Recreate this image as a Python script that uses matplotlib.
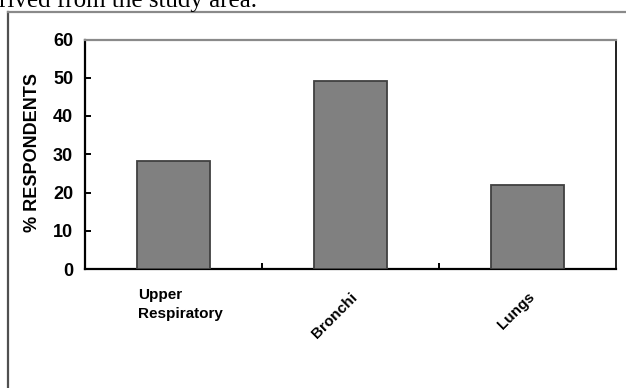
import matplotlib
matplotlib.use("Agg")
import matplotlib.pyplot as plt
from matplotlib.lines import Line2D

categories = ["Upper\nRespiratory", "Bronchi", "Lungs"]
values = [28.3, 49.2, 22.0]
yticks = [0, 10, 20, 30, 40, 50, 60]
ylabel = "% RESPONDENTS"
caption = "rived from the study area."

W, H = 626, 388
fig = plt.figure(figsize=(W / 100, H / 100), dpi=100)
plt.rcParams['font.family'] = ['Liberation Sans', 'DejaVu Sans']

def fx(px):
    return px / W

def fy(py):
    return 1 - py / H

# page text (cut off at top, as in the screenshot)
fig.text(fx(-1), fy(6.5), caption, family='Liberation Serif', fontsize=18,
         ha='left', va='baseline', color='black')

# outer frame of the chart object
fig.add_artist(Line2D([fx(8), fx(8)], [fy(12), fy(H + 5)], color='#505050', lw=1.6,
                      transform=fig.transFigure))
fig.add_artist(Line2D([fx(8), fx(W + 5)], [fy(12), fy(12)], color='#8a8a8a', lw=1.6,
                      transform=fig.transFigure))

left, right, top, bottom = 85, 616, 39.5, 269
ax = fig.add_axes([fx(left), fy(bottom), fx(right - left), (bottom - top) / H])

x = list(range(len(categories)))
ax.bar(x, values, width=0.41, color='#808080', edgecolor='#404040', linewidth=1.3, zorder=3)

ax.set_xlim(-0.5, len(categories) - 0.5)
ax.set_ylim(0, 60)
ax.set_yticks(yticks)
ax.set_yticklabels([str(v) for v in yticks], fontsize=13, fontweight='bold')
ax.tick_params(axis='y', direction='in', length=4, width=1.4, pad=8.5, colors='black')

ax.set_xticks([i + 0.5 for i in x[:-1]])
ax.set_xticklabels([])
ax.tick_params(axis='x', direction='in', length=4, width=1.4, colors='black')

for s in ['left', 'bottom']:
    ax.spines[s].set_color('black')
    ax.spines[s].set_linewidth(1.6)
ax.spines['right'].set_color('#202020')
ax.spines['right'].set_linewidth(1.4)
ax.spines['top'].set_color('#8a8a8a')
ax.spines['top'].set_linewidth(1.6)

# y label
fig.text(fx(33), fy(153), ylabel, rotation=90, ha='center', va='center',
         fontsize=13, fontweight='bold')

# x category labels
axh = bottom - top
trans = ax.get_xaxis_transform()
ax.text(x[0] - 0.2, -19 / axh, categories[0], transform=trans, ha='left', va='top',
        fontsize=11, fontweight='bold', linespacing=1.45, clip_on=False)
for i in x[1:]:
    ax.text(i, -21 / axh, categories[i], transform=trans, ha='right', va='top',
            rotation=45, rotation_mode='anchor', fontsize=11, fontweight='bold',
            clip_on=False)

fig.savefig("out.png", dpi=100)
